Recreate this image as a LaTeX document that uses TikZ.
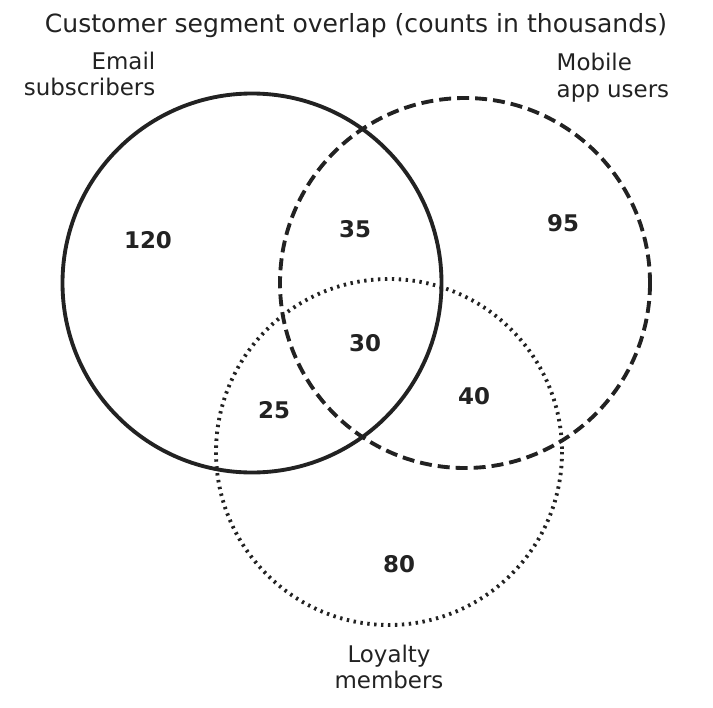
\documentclass[tikz,border=0pt]{standalone}
\usepackage{fontspec}
\setmainfont{DejaVu Sans}
\definecolor{ink}{HTML}{222222}
\tikzset{
  set/.style={draw=ink, line width=2.9pt},
  count/.style={font=\fontsize{17.2}{20}\selectfont\bfseries, text=ink},
  setlabel/.style={font=\fontsize{17.2}{20}\selectfont, text=ink, align=#1},
}
\begin{document}
\begin{tikzpicture}[x=0.75pt, y=-0.75pt]
\useasboundingbox (0,0) rectangle (713,707);
% the three sets
\draw [set] (252,283) circle [radius=189.5];
\draw [set, dash pattern=on 9pt off 4.5pt] (465,283) circle [radius=185];
\draw [set, dash pattern=on 1.8pt off 3.4pt] (389,452) circle [radius=173];
% titles
\node [font=\fontsize{18.8}{22}\selectfont, text=ink] (title) at (356,26) {Customer segment overlap (counts in thousands)};
\node [setlabel=right, anchor=east] (email) at (160,74) {Email\\subscribers};
\node [setlabel=left, anchor=west] (mobile) at (552,78) {Mobile\\app users};
\node [setlabel=center] (loyal) at (389,667) {Loyalty\\members};
% region counts
\node [count] (e) at (148,240) {120};
\node [count] (m) at (563,223) {95};
\node [count] (l) at (399,564) {80};
\node [count] (em) at (355,229) {35};
\node [count] (el) at (274,410) {25};
\node [count] (ml) at (474,396) {40};
\node [count] (eml) at (365,343) {30};
\end{tikzpicture}
\end{document}
